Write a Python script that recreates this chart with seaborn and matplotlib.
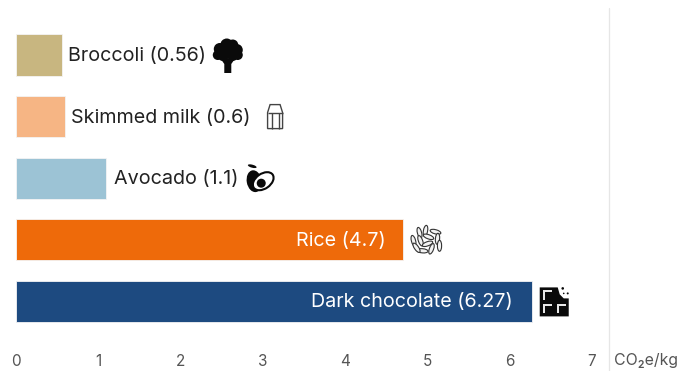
import matplotlib
matplotlib.use("Agg")
import matplotlib.pyplot as plt
from matplotlib.patches import Circle, Ellipse, Polygon
from matplotlib.transforms import Affine2D
import pandas as pd
import seaborn as sns

foods = ["Broccoli", "Skimmed milk", "Avocado", "Rice", "Dark chocolate"]
footprints = [0.56, 0.6, 1.1, 4.7, 6.27]
value_labels = ["0.56", "0.6", "1.1", "4.7", "6.27"]
bar_colors = ["#C8B680", "#F6B584", "#9CC3D5", "#EE6A0A", "#1D4A80"]
x_ticks = [0, 1, 2, 3, 4, 5, 6, 7]
unit_label = "CO₂e/kg"

sns.set_theme(style="white")
plt.rcParams["font.family"] = ["Inter", "DejaVu Sans"]

W, H = 678, 371
PX_PER_UNIT = 82.3
ZERO_PX = 15.7
ROW_PX = 61.6
FIRST_ROW_PX = 55

fig = plt.figure(figsize=(W / 100, H / 100), dpi=100, facecolor="white")
ax = fig.add_axes([0, 0, 1, 1])

table = pd.DataFrame({"food": foods, "footprint": footprints})
sns.barplot(
    data=table, x="footprint", y="food", hue="food", palette=bar_colors,
    order=foods, hue_order=foods, orient="h", width=0.67, legend=False,
    saturation=1, edgecolor="#F4F4F4", linewidth=0.6, ax=ax,
)

ax.set_xlim(-ZERO_PX / PX_PER_UNIT, (W - ZERO_PX) / PX_PER_UNIT)
ax.set_ylim((H - FIRST_ROW_PX) / ROW_PX, -FIRST_ROW_PX / ROW_PX)
ax.set_xlabel("")
ax.set_ylabel("")
ax.set_yticks([])
ax.set_xticks(x_ticks)
ax.set_xticklabels([str(t) for t in x_ticks])
ax.tick_params(axis="x", direction="in", length=0, pad=-12, labelsize=11, labelcolor="#555555")
sns.despine(ax=ax, left=True, bottom=True)
ax.axvline(7.21, ymin=0, ymax=1 - 8 / H, color="#E6E6E6", lw=0.9, zorder=0)

# Row labels: inside the long bars, just past the end of the short ones
label_gap_px = [6, 6, 8, -17, -19]
for i, (food, value, text, gap) in enumerate(zip(foods, footprints, value_labels, label_gap_px)):
    inside = gap < 0
    ax.annotate(
        f"{food} ({text})", xy=(value, i), xytext=(gap * 0.72, -0.7),
        textcoords="offset points", ha="right" if inside else "left", va="center",
        fontsize=14.2, color="white" if inside else "#222222",
    )

ax.text(614 / W, 1 - 361 / H, unit_label, transform=ax.transAxes, ha="left", va="center",
        fontsize=11.4, color="#555555")


def icon_frame(value, row, dx):
    """Pixel frame (y pointing down) centred dx pixels past the end of a bar."""
    px, py = ax.transData.transform((value, row))
    return Affine2D().scale(1, -1).translate(px + dx, py)


def add(patch, frame):
    patch.set_transform(frame)
    patch.set_clip_on(False)
    ax.add_artist(patch)


INK = "#0A0A0A"

# Broccoli head and stalk
frame = icon_frame(footprints[0], 0, 166)
for cx, cy, r in [(-1, -10, 6.5), (5, -10, 5.5), (-8, -6, 6), (9, -5, 6), (-10, 0, 5),
                  (10, 0, 5), (0, -4, 8), (-5, 1, 5), (5, 1, 5)]:
    add(Circle((cx, cy), r, fc=INK, ec="none"), frame)
add(Polygon([(-7, 4), (7, 4), (3.5, 9), (3.5, 18), (-3.5, 18), (-3.5, 9)], fc=INK, ec="none"), frame)

# Milk carton outline
frame = icon_frame(footprints[1], 1, 210)
add(Polygon([(-7.5, -4), (-5, -12), (5, -12), (7.5, -4), (7.5, 12), (-7.5, 12)], fc="white", ec="#444444", lw=1.0), frame)
add(Polygon([(-7.5, -4), (7.5, -4)], closed=False, fc="none", ec="#444444", lw=1.0), frame)
add(Polygon([(-3.5, -4), (-3.5, 12)], closed=False, fc="none", ec="#444444", lw=1.0), frame)
add(Polygon([(3.5, -4), (3.5, 12)], closed=False, fc="none", ec="#444444", lw=1.0), frame)

# Whole avocado behind a cut half with its stone
frame = icon_frame(footprints[2], 2, 154)
add(Ellipse((-6, 3), 15, 22, angle=-10, fc=INK, ec="none"), frame)
add(Ellipse((-8, -12), 9, 3, angle=15, fc=INK, ec="none"), frame)
add(Ellipse((3, 3), 23, 15, angle=-35, fc="white", ec=INK, lw=1.5), frame)
add(Circle((1, 5), 4.5, fc=INK, ec="none"), frame)

# Scattered rice grains
frame = icon_frame(footprints[3], 3, 24)
grains = [(-7, -7, 75), (-1, -9, 100), (9, -8, 15), (-13, 1, 75), (-6, 1, 70), (2, -3, 20),
          (11, -1, 95), (13, 6, 90), (-4, 11, 5), (5, 9, 110), (1, 4, 160), (-10, 8, 55)]
for cx, cy, angle in grains:
    add(Ellipse((cx, cy), 11, 4.2, angle=angle, fc="#F2F2F2", ec="#333333", lw=0.8), frame)

# Chocolate bar with a bitten corner and crumbs
frame = icon_frame(footprints[4], 4, 23)
add(Polygon([(-15, -14), (3, -14), (5, -7), (9, -3), (14, -3), (14, 15), (-15, 15)], fc=INK, ec="none"), frame)
add(Polygon([(-12, -1), (-12, -11), (-3, -11), (-3, -9), (-10, -9), (-10, -1)], fc="#E8E8E8", ec="none"), frame)
add(Polygon([(-12, 12), (-12, 3), (-3, 3), (-3, 5), (-10, 5), (-10, 12)], fc="#E8E8E8", ec="none"), frame)
add(Polygon([(2, 12), (2, 3), (11, 3), (11, 5), (4, 5), (4, 12)], fc="#E8E8E8", ec="none"), frame)
for cx, cy, r in [(8, -13, 1.3), (13, -8, 1.0), (9, -8, 0.8)]:
    add(Circle((cx, cy), r, fc=INK, ec="none"), frame)

fig.savefig("out.png", dpi=100, facecolor="white")
